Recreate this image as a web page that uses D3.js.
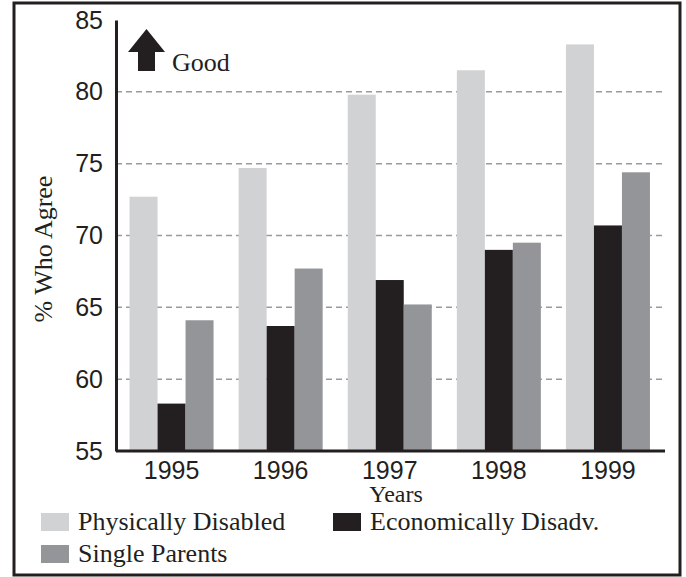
<!DOCTYPE html>
<html>
<head>
    <title>% Who Agree</title>
    <script src="https://cdn.jsdelivr.net/npm/d3@7"></script>
    <style>
        body {
            margin: 0;
            padding: 0;
            background-color: white;
        }

        .tick-label {
            font-family: "Liberation Sans", Arial, sans-serif;
            font-size: 25px;
            fill: #231f20;
        }

        .serif {
            font-family: "Liberation Serif", "Times New Roman", serif;
            fill: #231f20;
        }
    </style>
</head>
<body>
    <div id="chart"></div>

    <script>
        const years = ["1995", "1996", "1997", "1998", "1999"];
        const seriesNames = ["Physically Disabled", "Economically Disadv.", "Single Parents"];
        const physicallyDisabled = [72.7, 74.7, 79.8, 81.5, 83.3];
        const economicallyDisadv = [58.3, 63.7, 66.9, 69.0, 70.7];
        const singleParents = [64.1, 67.7, 65.2, 69.5, 74.4];
        const yTicks = [55, 60, 65, 70, 75, 80, 85];
        const gridValues = [60, 65, 70, 75, 80];

        const colors = ["#d1d2d4", "#231f20", "#939598"];
        const seriesValues = [physicallyDisabled, economicallyDisadv, singleParents];

        const data = years.map((yr, i) => ({
            year: yr,
            values: seriesNames.map((name, j) => ({ name: name, value: seriesValues[j][i] }))
        }));

        const width = 686, height = 577;

        const svg = d3.select("#chart")
            .append("svg")
            .attr("width", width)
            .attr("height", height);

        // outer frame
        svg.append("rect")
            .attr("x", 14)
            .attr("y", 3)
            .attr("width", 666)
            .attr("height", 572)
            .attr("fill", "white")
            .attr("stroke", "#231f20")
            .attr("stroke-width", 3);

        const axisX = 116, plotRight = 665;

        const y = d3.scaleLinear()
            .domain([55, 85])
            .range([451, 20]);

        const x0 = d3.scaleBand()
            .domain(years)
            .range([117, 662.5])
            .paddingInner(0.23)
            .paddingOuter(0.115);

        const x1 = d3.scaleBand()
            .domain(seriesNames)
            .range([0, x0.bandwidth()]);

        const color = d3.scaleOrdinal()
            .domain(seriesNames)
            .range(colors);

        // dashed grid lines
        svg.append("g")
            .selectAll("line")
            .data(gridValues)
            .enter()
            .append("line")
            .attr("x1", axisX)
            .attr("x2", plotRight)
            .attr("y1", d => y(d))
            .attr("y2", d => y(d))
            .attr("stroke", "#9a9b9d")
            .attr("stroke-width", 1.5)
            .attr("stroke-dasharray", "6,4");

        // bars
        svg.append("g")
            .selectAll("g")
            .data(data)
            .enter()
            .append("g")
            .attr("transform", d => `translate(${x0(d.year)},0)`)
            .selectAll("rect")
            .data(d => d.values)
            .enter()
            .append("rect")
            .attr("x", d => x1(d.name))
            .attr("y", d => y(d.value))
            .attr("width", x1.bandwidth())
            .attr("height", d => y(55) - y(d.value))
            .attr("fill", d => color(d.name));

        // y axis
        const yAxis = svg.append("g")
            .attr("transform", `translate(${axisX},0)`)
            .call(d3.axisLeft(y).tickValues(yTicks).tickSize(0).tickPadding(13));
        yAxis.select(".domain")
            .attr("stroke", "#231f20")
            .attr("stroke-width", 3);
        yAxis.selectAll("text")
            .attr("class", "tick-label")
            .attr("font-family", null)
            .attr("font-size", null);

        // x axis
        const xAxis = svg.append("g")
            .attr("transform", `translate(0,${y(55)})`)
            .call(d3.axisBottom(x0).tickSize(0).tickPadding(10));
        xAxis.select(".domain")
            .attr("d", `M${axisX},0H${plotRight}`)
            .attr("stroke", "#231f20")
            .attr("stroke-width", 3);
        xAxis.selectAll("text")
            .attr("class", "tick-label")
            .attr("font-family", null)
            .attr("font-size", null);

        // axis titles
        svg.append("text")
            .attr("class", "serif")
            .attr("x", 396)
            .attr("y", 502)
            .attr("text-anchor", "middle")
            .style("font-size", "24px")
            .text("Years");

        svg.append("text")
            .attr("class", "serif")
            .attr("transform", "translate(52,249) rotate(-90)")
            .attr("text-anchor", "middle")
            .style("font-size", "26px")
            .text("% Who Agree");

        // "Good" arrow
        svg.append("path")
            .attr("d", "M128,52 L146.5,29 L165,52 L155,52 L155,71 L138,71 L138,52 Z")
            .attr("fill", "#231f20");
        svg.append("text")
            .attr("class", "serif")
            .attr("x", 172)
            .attr("y", 71)
            .style("font-size", "26px")
            .text("Good");

        // legend
        const legendPos = [[41, 513], [333, 513], [41, 545]];
        const legend = svg.append("g")
            .selectAll("g")
            .data(seriesNames)
            .enter()
            .append("g")
            .attr("transform", (d, i) => `translate(${legendPos[i][0]},${legendPos[i][1]})`);
        legend.append("rect")
            .attr("width", 28)
            .attr("height", 18)
            .attr("fill", d => color(d));
        legend.append("text")
            .attr("class", "serif")
            .attr("x", 37)
            .attr("y", 17)
            .style("font-size", "26px")
            .text(d => d);
    </script>
</body>
</html>
